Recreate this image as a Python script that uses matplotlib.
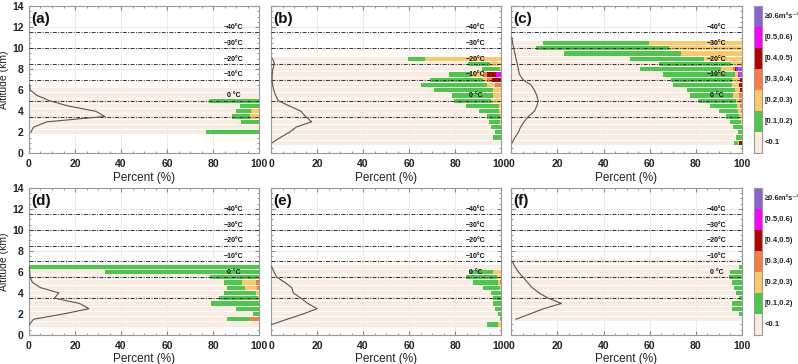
import matplotlib.pyplot as plt
import numpy as np
from matplotlib.ticker import MultipleLocator

plt.rcParams['font.family'] = ['Liberation Sans', 'DejaVu Sans']
plt.rcParams['font.weight'] = 'bold'

# classes of the stacked bars (bottom -> top of colour legend)
class_labels = ['<0.1', '[0.1,0.2)', '[0.2,0.3)', '[0.3,0.4)', '[0.4,0.5)', '[0.5,0.6)', '≥0.6m²s⁻²']
class_colors = ['#faece0', '#4cc74a', '#fdc86a', '#fb7d44', '#b30000', '#fb00fb', '#8c63cf']

# temperature levels (km)
top_levels = [11.5, 10.0, 8.5, 7.0, 5.0, 3.5]
bot_levels = [11.5, 10.0, 8.5, 7.0, 5.5, 3.5]
level_names = ['−40°C', '−30°C', '−20°C', '−10°C', '0 °C']

# ---- panel (a)
a_alt = [2.0, 2.5, 3.0, 3.5, 4.0, 4.5, 5.0, 5.5, 6.0]
a_green = [23, 0, 8, 8, 6.5, 8.5, 22, 0, 0]
a_yellow = [0, 0, 0, 4, 3.5, 0, 0, 0, 0]
a_prof_alt = [2.0, 2.5, 3.0, 3.5, 4.0, 4.5, 5.0, 5.5, 6.0, 6.5]
a_prof = [0.8, 2, 8, 33, 29, 17, 9, 3.5, 0.6, 0.3]

# ---- panel (b)
b_alt = [1.0, 1.5, 2.0, 2.5, 3.0, 3.5, 4.0, 4.5, 5.0, 5.5, 6.0, 6.5, 7.0, 7.5, 8.0, 8.5, 9.0]
b_green = [0, 3.6, 2.6, 4.4, 5.0, 5.5, 9.0, 14.3, 16.3, 17.8, 25.8, 28.9, 23.0, 9.2, 8.0, 9.6, 7.2]
b_yellow = [0, 0, 0, 0, 0.4, 0.5, 0.8, 1.0, 4.4, 3.6, 3.6, 3.2, 2.0, 5.4, 0.4, 5.0, 33.2]
b_orange = [0, 0, 0, 0, 0, 0, 0, 0, 0, 0, 0, 2.9, 2.0, 1.9, 0, 0, 0]
b_dred = [0, 0, 0, 0, 0, 0, 0, 0, 0, 0, 0, 0, 4.0, 3.8, 0, 0, 0]
b_magenta = [0, 0, 0, 0, 0, 0, 0, 0, 0, 0, 0, 0, 0, 2.2, 0, 0, 0]
b_prof_alt = b_alt
b_prof = [0.5, 4, 8, 11, 17.7, 15, 13, 8, 3.2, 2, 1.2, 0.7, 0.5, 0.5, 0.8, 1.5, 0.7]

# ---- panel (c)
c_alt = [1.0, 1.5, 2.0, 2.5, 3.0, 3.5, 4.0, 4.5, 5.0, 5.5, 6.0, 6.5, 7.0, 7.5, 8.0, 8.5, 9.0, 9.5, 10.0, 10.5]
c_green = [1.7, 2.4, 1.5, 3.7, 4.6, 5.7, 8.4, 11.8, 16.5, 19.0, 21.0, 25.4, 26.8, 31.4, 35.3, 31.0, 32.1, 51.1, 57.9, 46.4]
c_yellow = [0.5, 0, 0, 0, 0.5, 1.0, 1.0, 1.2, 1.5, 2.6, 2.2, 3.4, 3.2, 1.2, 5.3, 4.3, 16.4, 26.2, 31.5, 40.1]
c_orange = [0, 0, 0, 0, 0, 0, 0.5, 0.8, 1.0, 1.0, 0, 0, 0, 0, 0.5, 0.5, 0, 0, 0, 0]
c_dred = [1.2, 0, 0, 0, 0, 0, 0, 0, 0, 0, 0.7, 1.0, 0.8, 0, 0.5, 0, 0, 0, 0, 0]
c_magenta = [0, 0, 0, 0, 0, 0, 0, 0, 0, 0, 0, 0, 0, 0.5, 0.8, 0, 0, 0, 0, 0]
c_purple = [0, 0, 0, 0, 0, 0, 0, 0, 0, 0, 0, 0, 0, 1.0, 1.8, 0, 0, 0, 0, 0]
c_prof_alt = c_alt + [11.0]
c_prof = [0.3, 1.5, 3, 4, 5.5, 7.3, 10, 11, 11.6, 11, 10, 8.5, 5, 3.5, 3, 2.5, 2, 1.5, 1, 0.5, 0.2]

# ---- panel (d)
d_alt = [1.0, 1.5, 2.0, 2.5, 3.0, 3.5, 4.0, 4.5, 5.0, 5.5, 6.0, 6.5]
d_green = [0, 10, 2.7, 10, 21, 16.6, 14.2, 8, 8, 21.3, 67, 100]
d_yellow = [0, 0, 0, 0, 0, 0.7, 1.3, 5, 6.2, 0, 0, 0]
d_orange = [0, 4, 0, 0, 0, 0, 0, 1, 1.3, 0, 0, 0]
d_prof_alt = d_alt
d_prof = [0.2, 2, 15, 26, 22, 11, 13, 5, 1.5, 0.5, 0.3, 0.2]

# ---- panel (e)
e_alt = [1.0, 1.5, 2.0, 2.5, 3.0, 3.5, 4.0, 4.5, 5.0, 5.5, 6.0, 6.5]
e_green = [4.6, 0.7, 1.5, 2.5, 3.6, 3.6, 4.4, 7.2, 11, 13.6, 10.5, 0]
e_yellow = [1.5, 0, 0, 0, 0, 0, 0, 0.5, 1.0, 1.7, 3.6, 0]
e_orange = [0, 0, 0, 0, 0, 0, 0, 0, 0.4, 0, 0, 0]
e_prof_alt = e_alt
e_prof = [0.3, 7, 14, 20, 16, 13, 9.7, 9, 6, 2.5, 1.3, 0.3]

# ---- panel (f)
f_alt = [1.5, 2.0, 2.5, 3.0, 3.5, 4.0, 4.5, 5.0, 5.5, 6.0, 6.5, 7.0]
f_green = [0, 1, 4.1, 4.4, 1.3, 2.4, 3.4, 4.1, 5.6, 5.1, 1.3, 0]
f_prof_alt = f_alt
f_prof = [2, 8, 14, 21.7, 16, 12, 9, 7, 5, 3, 1.5, 0.3]


def draw_panel(ax, tag, alt, parts, prof_alt, prof, levels, ylabels):
    alt = np.array(alt)
    parts = [np.zeros(len(alt)) if p is None else np.array(p, float) for p in parts]
    beige = 100 - np.sum(parts, axis=0)
    left = np.zeros(len(alt))
    for w, col in zip([beige] + parts, class_colors):
        ax.barh(alt, w, left=left, height=0.4, color=col, linewidth=0, zorder=2)
        left = left + w

    for i, lv in enumerate(levels):
        ax.axhline(lv, color='#333333', lw=0.7, ls=(0, (4, 1.5, 1, 1.5)), zorder=3)
        if i < len(level_names):
            ax.text(89, lv + 0.45, level_names[i], fontsize=5, ha='center', va='center',
                    color='#111111', zorder=4)

    ax.plot(prof, prof_alt, color='#555555', lw=0.8, zorder=4)

    ax.set_xlim(0, 100)
    ax.set_ylim(0, 14)
    ax.xaxis.set_major_locator(MultipleLocator(20))
    ax.xaxis.set_minor_locator(MultipleLocator(5))
    ax.yaxis.set_major_locator(MultipleLocator(2))
    ax.yaxis.set_minor_locator(MultipleLocator(0.5))
    ax.grid(True, color='#e4e4e4', lw=0.5, zorder=0)
    ax.set_axisbelow(True)
    ax.tick_params(which='both', direction='in', top=True, right=True, color='#888888',
                   labelsize=7.5, labelcolor='#222222', pad=4)
    ax.tick_params(which='major', length=3)
    ax.tick_params(which='minor', length=1.5)
    for s in ax.spines.values():
        s.set_color('#999999')
        s.set_linewidth(0.8)
    ax.set_xlabel('Percent (%)', fontsize=8.5, labelpad=2, color='#222222')
    if ylabels:
        ax.set_ylabel('Altitude (km)', fontsize=7.5, labelpad=2, color='#222222')
    else:
        ax.tick_params(labelleft=False)
    ax.text(0.01, 0.96, tag, transform=ax.transAxes, fontsize=11, ha='left', va='top',
            color='#111111', zorder=5)


def draw_legend(cax):
    for i, col in enumerate(class_colors):
        cax.bar(0.5, 1, bottom=i, width=1, color=col, linewidth=0)
        cax.text(1.35, i + 0.5, class_labels[i], fontsize=5.5, va='center', ha='left',
                 color='#222222', clip_on=False)
    cax.set_xlim(0, 1)
    cax.set_ylim(0, len(class_colors))
    cax.set_xticks([])
    cax.set_yticks([])
    for s in cax.spines.values():
        s.set_color('#999999')
        s.set_linewidth(0.8)


fig = plt.figure(figsize=(7.98, 3.64), dpi=100)
lefts = [0.0363, 0.3396, 0.6409]
bottoms = [0.5788, 0.0797]
w, h = 0.2885, 0.4045

ax_a = fig.add_axes([lefts[0], bottoms[0], w, h])
ax_b = fig.add_axes([lefts[1], bottoms[0], w, h])
ax_c = fig.add_axes([lefts[2], bottoms[0], w, h])
ax_d = fig.add_axes([lefts[0], bottoms[1], w, h])
ax_e = fig.add_axes([lefts[1], bottoms[1], w, h])
ax_f = fig.add_axes([lefts[2], bottoms[1], w, h])

draw_panel(ax_a, '(a)', a_alt, [a_green, a_yellow, None, None, None, None],
           a_prof_alt, a_prof, top_levels, True)
draw_panel(ax_b, '(b)', b_alt, [b_green, b_yellow, b_orange, b_dred, b_magenta, None],
           b_prof_alt, b_prof, top_levels, False)
draw_panel(ax_c, '(c)', c_alt, [c_green, c_yellow, c_orange, c_dred, c_magenta, c_purple],
           c_prof_alt, c_prof, top_levels, False)
draw_panel(ax_d, '(d)', d_alt, [d_green, d_yellow, d_orange, None, None, None],
           d_prof_alt, d_prof, bot_levels, True)
draw_panel(ax_e, '(e)', e_alt, [e_green, e_yellow, e_orange, None, None, None],
           e_prof_alt, e_prof, bot_levels, False)
draw_panel(ax_f, '(f)', f_alt, [f_green, None, None, None, None, None],
           f_prof_alt, f_prof, bot_levels, False)

draw_legend(fig.add_axes([0.9449, bottoms[0], 0.0100, h]))
draw_legend(fig.add_axes([0.9449, bottoms[1], 0.0100, h]))

fig.savefig('out.png', dpi=100)
